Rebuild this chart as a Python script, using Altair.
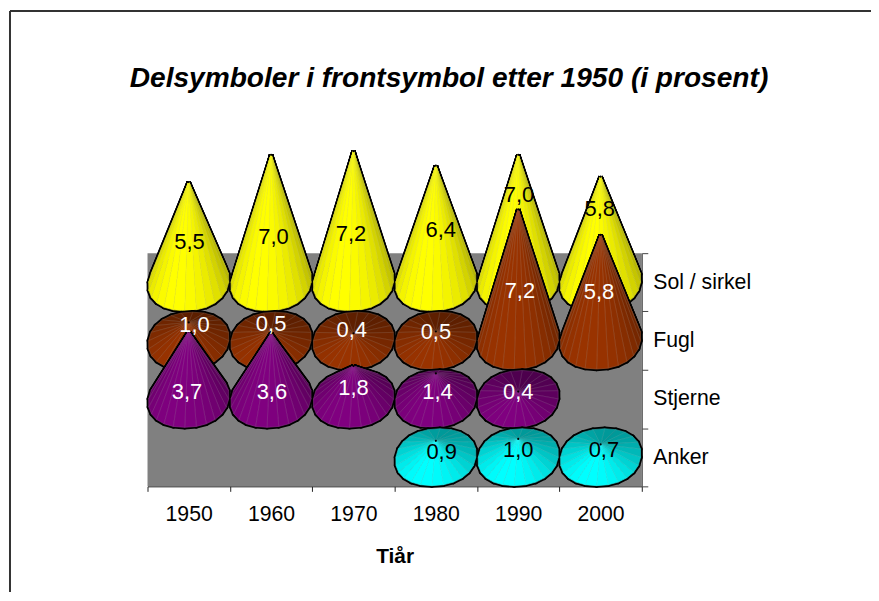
import math
import altair as alt
import pandas as pd

decades = [1950, 1960, 1970, 1980, 1990, 2000]
series = ["Sol / sirkel", "Fugl", "Stjerne", "Anker"]
sol = [5.5, 7.0, 7.2, 6.4, 7.0, 5.8]
fugl = [1.0, 0.5, 0.4, 0.5, 7.2, 5.8]
stjerne = [3.7, 3.6, 1.8, 1.4, 0.4, None]
anker = [None, None, None, 0.9, 1.0, 0.7]
values = [sol, fugl, stjerne, anker]
base_rgb = [(255, 255, 0), (153, 51, 0), (128, 0, 128), (0, 255, 255)]
label_colors = ["black", "white", "white", "black"]

# where each value label sits (x in years, y in chart units)
label_x = [
    [1950.1, 1960.3, 1969.7, 1980.6, 1990.1, 1999.9],
    [1950.7, 1960.0, 1969.8, 1980.0, 1990.2, 1999.8],
    [1949.8, 1960.1, 1970.0, 1980.2, 1990.0, None],
    [None, None, None, 1980.7, 1990.0, 2000.4],
]
label_y = [
    [13.42, 13.69, 13.84, 14.06, 15.97, 15.21],
    [8.86, 8.92, 8.59, 8.48, 10.72, 10.67],
    [5.20, 5.20, 5.42, 5.20, 5.20, None],
    [None, None, None, 1.86, 2.02, 1.97],
]

ROW = 3.2
FONT = "Liberation Sans"
N = 24
SEMI_X = 4.85
SEMI_Y = 1.56
SHEAR = 0.10
ROUND = 0.92


def scale_rgb(rgb, f):
    return tuple(c * f for c in rgb)


def to_hex(rgb):
    return "#%02x%02x%02x" % tuple(int(round(c)) for c in rgb)


def shade(rgb, t):
    return scale_rgb(rgb, 0.8 + 0.2 * math.cos(t - math.radians(105)))


def rib_of(rgb):
    return tuple(c * 0.8 + 190 * 0.2 for c in rgb)


def spow(v):
    return math.copysign(abs(v) ** ROUND, v)


def rim(cx, cy, t):
    # sin(t) = 1 is the front of the base, towards the viewer
    c, s = spow(math.cos(t)), spow(math.sin(t))
    return (cx + SEMI_X * c - SHEAR * SEMI_X * s, cy - SEMI_Y * s)


def cone_rows(si):
    rows = []
    apexes = []
    cy = (3 - si) * ROW + ROW / 2
    for di, dec in enumerate(decades):
        v = values[si][di]
        if v is None:
            continue
        apex = (dec, cy + v)
        apexes.append({"x": apex[0], "y": apex[1]})
        steps = sorted(range(N), key=lambda k: math.sin(2 * math.pi * (k + 0.5) / N))
        for rank, k in enumerate(steps):
            t0 = 2 * math.pi * k / N
            t1 = 2 * math.pi * (k + 1) / N
            rgb = shade(base_rgb[si], (t0 + t1) / 2)
            pts = [apex, rim(dec, cy, t0), rim(dec, cy, t1), apex]
            fid = f"{di}-{rank:02d}"
            for o, (px, py) in enumerate(pts):
                rows.append({
                    "x": px, "y": py, "fid": fid, "o": o,
                    "fill": to_hex(rgb), "rib": to_hex(rib_of(rgb)),
                })
    return pd.DataFrame(rows), pd.DataFrame(apexes)


x_edges = [d - 5 for d in decades] + [decades[-1] + 5]
y_edges = [i * ROW for i in range(5)]
x_label_expr = "datum.value > 2000 ? '' : '' + (datum.value + 5)"
y_label_expr = (
    "datum.value > 12 ? '' : ["
    + ",".join(f"'{s}'" for s in reversed(series))
    + "][round(datum.value / %s)]" % ROW
)

x_scale = alt.Scale(domain=[x_edges[0], x_edges[-1]], nice=False, zero=False)
y_scale = alt.Scale(domain=[0, 4 * ROW], nice=False, zero=False)
x_axis = alt.Axis(
    values=x_edges, labelExpr=x_label_expr, labelOffset=41.3, labelOverlap=False,
    labelFlush=False, labelBound=False, grid=False, title="Tiår", titleFont=FONT,
    titleFontSize=21, titleFontWeight="bold", titleColor="black", titlePadding=21,
    labelFont=FONT, labelFontSize=21.3, labelColor="black", labelPadding=12,
    tickSize=5, tickColor="#222222", domainColor="#222222", labelAngle=0,
)
y_axis = alt.Axis(
    orient="right", values=y_edges, labelExpr=y_label_expr, labelOffset=-29.25,
    labelOverlap=False, labelFlush=False, labelBound=False, grid=False, title=None,
    labelFont=FONT, labelFontSize=21.3, labelColor="black", labelPadding=5,
    tickSize=6, tickColor="#444444", domainColor="#444444",
)

X = alt.X("x:Q", scale=x_scale, axis=x_axis)
Y = alt.Y("y:Q", scale=y_scale, axis=y_axis)

layers = []
for si in range(4):
    facets, apexes = cone_rows(si)
    enc = dict(x=X, y=Y, detail="fid:N", order="o:Q")
    outline = alt.Chart(facets).mark_line(
        stroke="black", strokeWidth=4.4, fill="black", strokeJoin="round"
    ).encode(**enc)
    faces = alt.Chart(facets).mark_line(strokeWidth=0.7, strokeJoin="round").encode(
        fill=alt.Fill("fill:N", scale=None, legend=None),
        stroke=alt.Stroke("rib:N", scale=None, legend=None),
        **enc,
    )
    tip = alt.Chart(apexes).mark_circle(size=5, color="black", opacity=1).encode(x=X, y=Y)
    layers += [outline, faces, tip]

text_rows = []
for si in range(4):
    for di in range(6):
        if values[si][di] is None:
            continue
        text_rows.append({
            "x": label_x[si][di], "y": label_y[si][di],
            "t": f"{values[si][di]:.1f}".replace(".", ","),
            "c": label_colors[si],
        })
labels = alt.Chart(pd.DataFrame(text_rows)).mark_text(
    font=FONT, fontSize=22, baseline="middle", align="center"
).encode(x=X, y=Y, text="t:N", color=alt.Color("c:N", scale=None, legend=None))

frame_top = alt.Chart(pd.DataFrame({"a": [0]})).mark_rule(color="#333333", strokeWidth=2).encode(
    x=alt.value(-138), x2=alt.value(726), y=alt.value(-243)
)
frame_left = alt.Chart(pd.DataFrame({"a": [0]})).mark_rule(color="#333333", strokeWidth=2).encode(
    x=alt.value(-138), y=alt.value(-243), y2=alt.value(340)
)

chart = alt.layer(frame_top, frame_left, *layers, labels).properties(
    width=496,
    height=234,
    autosize=alt.AutoSizeParams(type="none"),
    padding={"left": 140, "top": 245, "right": 230, "bottom": 106},
    background="white",
    title=alt.TitleParams(
        "Delsymboler i frontsymbol etter 1950 (i prosent)",
        font=FONT, fontSize=28.2, fontStyle="italic", fontWeight="bold",
        color="black", anchor="middle", dx=54.5, offset=0, dy=83,
    ),
).configure_view(fill="#808080", stroke=None)

chart.save("out.html", embed_options={"renderer": "svg", "actions": False})
